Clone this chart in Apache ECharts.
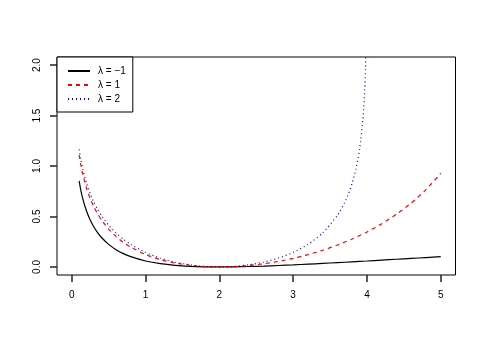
<!DOCTYPE html>
<html>
<head>
<meta charset="utf-8">
<script src="https://cdn.jsdelivr.net/npm/echarts@6/dist/echarts.min.js"></script>
<style>html,body{margin:0;padding:0;background:#fff}#c{width:485px;height:346px}</style>
</head>
<body>
<div id="c"></div>
<script>
const seriesNames = ['λ = −1', 'λ = 1', 'λ = 2'];
const xTicks = [0, 1, 2, 3, 4, 5];
const yTicks = [0, 0.5, 1, 1.5, 2];

const xCommon = [0.1, 0.12, 0.15, 0.2, 0.25, 0.3, 0.35, 0.4, 0.5, 0.6, 0.7, 0.8, 1.0, 1.2, 1.4, 1.6, 1.8, 2.0,
  2.2, 2.4, 2.6, 2.8, 3.0, 3.2, 3.4, 3.6, 3.8, 4.0, 4.2, 4.4, 4.6, 4.8, 5.0];
const yLamMinus1 = [0.8535, 0.7718, 0.6742, 0.5535, 0.4644, 0.3952, 0.3396, 0.2939, 0.2232, 0.1712, 0.1319, 0.1015, 0.0589, 0.0323, 0.0158, 0.0062, 0.0014, 0.0,
  0.0011, 0.0042, 0.0086, 0.0141, 0.0204, 0.0274, 0.0348, 0.0426, 0.0506, 0.0589, 0.0673, 0.0758, 0.0843, 0.0929, 0.1015];
const yLam1 = [1.1092, 1.0214, 0.9150, 0.7797, 0.6768, 0.5944, 0.5261, 0.4682, 0.3747, 0.3019, 0.2435, 0.1958, 0.1234, 0.0731, 0.0386, 0.0163, 0.0039, 0.0,
  0.0036, 0.0142, 0.0313, 0.0549, 0.0849, 0.1217, 0.1655, 0.2169, 0.2769, 0.3466, 0.4275, 0.5221, 0.6334, 0.7662, 0.9281];
const xLam2 = [0.1, 0.12, 0.15, 0.2, 0.25, 0.3, 0.35, 0.4, 0.5, 0.6, 0.7, 0.8, 1.0, 1.2, 1.4, 1.6, 1.8, 2.0,
  2.2, 2.4, 2.6, 2.8, 3.0, 3.2, 3.4, 3.6, 3.7, 3.75, 3.8, 3.85, 3.9, 3.95, 3.97, 3.98, 3.99];
const yLam2 = [1.1640, 1.0754, 0.9677, 0.8304, 0.7254, 0.6410, 0.5707, 0.5108, 0.4133, 0.3367, 0.2745, 0.2231, 0.1438, 0.0872, 0.0471, 0.0204, 0.0050, 0.0,
  0.0050, 0.0204, 0.0471, 0.0872, 0.1438, 0.2231, 0.3367, 0.5108, 0.6410, 0.7254, 0.8304, 0.9677, 1.1640, 1.5042, 1.7570, 1.9585, 2.3038];

const pair = (xs, ys) => xs.map((x, i) => [x, ys[i]]);
const FONT = 'Liberation Sans';
const xLo = -0.2, xHi = 5.2, yLo = -0.08, yHi = 2.08;
const TICK = '#222';

const chart = echarts.init(document.getElementById('c'), null, {renderer: 'canvas'});
chart.setOption({
  backgroundColor: '#fff',
  animation: false,
  grid: {show: true, left: 57, right: 29.5, top: 57, bottom: 71,
    borderColor: '#000', borderWidth: 1, backgroundColor: 'transparent'},
  xAxis: {type: 'value', min: xLo, max: xHi,
    axisLine: {show: false, onZero: false},
    axisTick: {show: true, customValues: xTicks, length: 7, lineStyle: {color: TICK, width: 1.5}},
    axisLabel: {customValues: xTicks, margin: 15, fontSize: 10, fontFamily: FONT, color: '#000'},
    splitLine: {show: false}},
  yAxis: {type: 'value', min: yLo, max: yHi,
    axisLine: {show: false, onZero: false},
    axisTick: {show: true, customValues: yTicks, length: 7, lineStyle: {color: TICK, width: 1.5}},
    axisLabel: {customValues: yTicks, rotate: 90, margin: 15, fontSize: 10, fontFamily: FONT, color: '#000',
      formatter: v => v.toFixed(1)},
    splitLine: {show: false}},
  legend: {
    orient: 'vertical', left: 57, top: 57,
    backgroundColor: '#fff', borderColor: '#000', borderWidth: 1, borderRadius: 0,
    padding: [9, 7, 8, 10],
    itemWidth: 22, itemHeight: 10, itemGap: 4,
    itemStyle: {opacity: 0, borderWidth: 0},
    textStyle: {fontSize: 10, fontFamily: FONT, color: '#000', padding: [0, 0, 0, 3], lineHeight: 10},
    data: seriesNames
  },
  series: [
    {name: seriesNames[0], type: 'line', data: pair(xCommon, yLamMinus1), symbol: 'none', smooth: 0.2, clip: true,
      lineStyle: {color: '#000', width: 1.2, type: 'solid'}, itemStyle: {color: '#000'}},
    {name: seriesNames[1], type: 'line', data: pair(xCommon, yLam1), symbol: 'none', smooth: 0.2, clip: true,
      lineStyle: {color: '#ff0000', width: 1.2, type: [4, 4]}, itemStyle: {color: '#ff0000'}},
    {name: seriesNames[2], type: 'line', data: pair(xLam2, yLam2), symbol: 'none', smooth: 0.2, clip: true,
      lineStyle: {color: '#0000ff', width: 1.2, type: [1, 3]}, itemStyle: {color: '#0000ff'}}
  ]
});
</script>
</body>
</html>
